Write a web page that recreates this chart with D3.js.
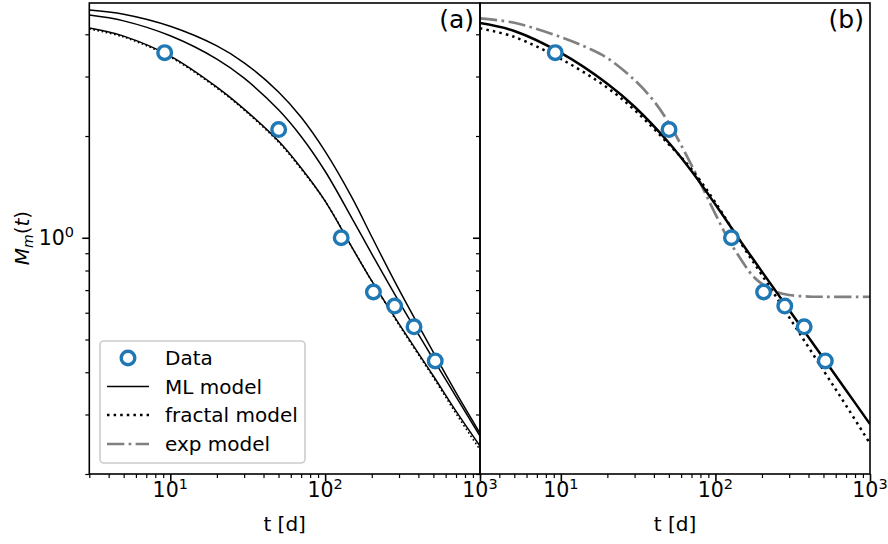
<!DOCTYPE html>
<html><head><meta charset="utf-8">
<script src="https://cdn.jsdelivr.net/npm/d3@7/dist/d3.min.js"></script>
<style>
body{margin:0;background:#fff;}
svg text{font-family:"DejaVu Sans",sans-serif;fill:#000;}
</style></head><body>
<svg id="c" width="888" height="544"></svg>
<script>
// ---------- data ----------
const tGrid = [3, 5, 10, 20, 30, 50, 70, 100, 150, 200, 300, 500, 700, 1000];
const dataT = [9.2, 50.1, 127, 205, 281, 375, 514];
const dataM = [3.53, 2.09, 1.00, 0.691, 0.628, 0.545, 0.432];
// panel (a): three ML model curves + fractal model
const mlA1 = [4.173, 3.951, 3.448, 2.792, 2.403, 1.932, 1.608, 1.284, 0.932, 0.745, 0.556, 0.390, 0.307, 0.242];
const mlA2 = [4.559, 4.383, 3.959, 3.378, 2.966, 2.392, 1.994, 1.573, 1.136, 0.896, 0.647, 0.437, 0.339, 0.259];
const mlA3 = [4.717, 4.587, 4.225, 3.696, 3.294, 2.700, 2.272, 1.801, 1.308, 1.007, 0.702, 0.458, 0.348, 0.264];
const fracA = [4.145, 3.925, 3.424, 2.773, 2.387, 1.919, 1.597, 1.284, 0.932, 0.745, 0.552, 0.386, 0.302, 0.236];
// panel (b): ML, fractal, exp
const mlB = [4.317, 4.091, 3.524, 2.857, 2.441, 1.910, 1.575, 1.254, 0.957, 0.794, 0.611, 0.440, 0.354, 0.281];
const fracB = [4.165, 3.928, 3.382, 2.779, 2.387, 1.889, 1.597, 1.271, 0.946, 0.776, 0.582, 0.405, 0.319, 0.246];
const expT = [3, 5, 10, 15, 20, 30, 40, 50, 70, 100, 120, 150, 175, 200, 250, 300, 400, 500, 1000];
const expM = [4.457, 4.326, 3.925, 3.640, 3.401, 2.928, 2.537, 2.184, 1.641, 1.175, 0.998, 0.848, 0.770, 0.730, 0.691, 0.677, 0.670, 0.669, 0.669];
// axes
const xDomain = [3, 1000];
const yDomain = [0.2, 4.95];
const xMajor = [10, 100, 1000];
const xMinor = [3,4,5,6,7,8,9,20,30,40,50,60,70,80,90,200,300,400,500,600,700,800,900];
const yMajor = [1];
const yMinor = [0.2,0.3,0.4,0.5,0.6,0.7,0.8,0.9,2,3,4];
const legendLabels = ["Data", "ML model", "fractal model", "exp model"];
const panelLabels = ["(a)", "(b)"];

// ---------- layout ----------
const svg = d3.select("#c");
const yTop = 3, yBot = 474;
const panels = [{x0: 89.3, x1: 480}, {x0: 480, x1: 870}];
const y = d3.scaleLog().domain(yDomain).range([yBot, yTop]);
const blue = "#1f77b4", gray = "#808080";

const defs = svg.append("defs");
panels.forEach((p, i) => {
  p.x = d3.scaleLog().domain(xDomain).range([p.x0, p.x1]);
  defs.append("clipPath").attr("id", "clip" + i).append("rect")
    .attr("x", p.x0).attr("y", yTop).attr("width", p.x1 - p.x0).attr("height", yBot - yTop);
});

function drawLine(g, xs, ts, ms, style) {
  const pts = ts.map((t, i) => [xs(t), y(ms[i])]);
  g.append("path").attr("d", d3.line().curve(d3.curveCatmullRom.alpha(0.5))(pts))
    .attr("fill", "none").attr("stroke", style.color).attr("stroke-width", style.w)
    .attr("stroke-dasharray", style.dash || null).attr("stroke-linecap", "butt");
}
function drawData(g, xs) {
  g.selectAll("circle.d").data(dataT).enter().append("circle")
    .attr("cx", (d) => xs(d)).attr("cy", (d, i) => y(dataM[i])).attr("r", 6.8)
    .attr("fill", "#fff").attr("stroke", blue).attr("stroke-width", 3.4);
}

// panel a
const ga = svg.append("g").attr("clip-path", "url(#clip0)");
const xa = panels[0].x;
const thinA = {color: "#000", w: 1.5};
drawLine(ga, xa, tGrid, mlA3, thinA);
drawLine(ga, xa, tGrid, mlA2, thinA);
drawLine(ga, xa, tGrid, mlA1, thinA);
drawLine(ga, xa, tGrid, fracA, {color: "#000", w: 1.6, dash: "1.6,2.6"});
drawData(svg.append("g"), xa);

// panel b
const gb = svg.append("g").attr("clip-path", "url(#clip1)");
const xb = panels[1].x;
drawLine(gb, xb, expT, expM, {color: gray, w: 2.7, dash: "17.3,4.3,2.7,4.3"});
drawLine(gb, xb, tGrid, mlB, {color: "#000", w: 2.5});
drawLine(gb, xb, tGrid, fracB, {color: "#000", w: 2.5, dash: "2.5,4.1"});
drawData(svg.append("g"), xb);

// ---------- axes ----------
function supText(sel, base, sup) {
  sel.append("tspan").text(base);
  sel.append("tspan").attr("font-size", 14.5).attr("dy", -8.5).text(sup);
}
panels.forEach((p, i) => {
  const xs = p.x;
  svg.append("g").attr("transform", `translate(0,${yBot})`)
    .call(d3.axisBottom(xs).tickValues(xMinor).tickSize(4).tickFormat("").tickSizeOuter(0))
    .call(g => g.select(".domain").remove())
    .call(g => g.selectAll("line").attr("stroke-width", 1.2));
  svg.append("g").attr("transform", `translate(0,${yBot})`)
    .call(d3.axisBottom(xs).tickValues(xMajor).tickSize(7).tickFormat("").tickSizeOuter(0))
    .call(g => g.select(".domain").remove())
    .call(g => g.selectAll("line").attr("stroke-width", 1.6));
  xMajor.forEach(v => {
    const ex = Math.round(Math.log10(v));
    const t = svg.append("text").attr("x", xs(v)).attr("y", 497)
      .attr("text-anchor", "middle").attr("font-size", 20.5);
    supText(t, "10", String(ex));
  });
  svg.append("g").attr("transform", `translate(${p.x0},0)`)
    .call(d3.axisLeft(y).tickValues(yMinor).tickSize(4).tickFormat("").tickSizeOuter(0))
    .call(g => g.select(".domain").remove())
    .call(g => g.selectAll("line").attr("stroke-width", 1.2));
  svg.append("g").attr("transform", `translate(${p.x0},0)`)
    .call(d3.axisLeft(y).tickValues(yMajor).tickSize(7).tickFormat("").tickSizeOuter(0))
    .call(g => g.select(".domain").remove())
    .call(g => g.selectAll("line").attr("stroke-width", 1.6));
  svg.append("rect").attr("x", p.x0).attr("y", yTop).attr("width", p.x1 - p.x0)
    .attr("height", yBot - yTop).attr("fill", "none").attr("stroke", "#000").attr("stroke-width", 1.6);
  svg.append("text").attr("x", (p.x0 + p.x1) / 2).attr("y", 531).attr("text-anchor", "middle")
    .attr("font-size", 20).text("t [d]");
  svg.append("text").attr("x", p.x1 - 6).attr("y", 28).attr("text-anchor", "end")
    .attr("font-size", 25).text(panelLabels[i]);
});
yMajor.forEach(v => {
  const t = svg.append("text").attr("x", 74).attr("y", y(v) + 7.5).attr("text-anchor", "end")
    .attr("font-size", 20.5);
  supText(t, "10", String(Math.round(Math.log10(v))));
});
const yl = svg.append("text").attr("transform", "translate(29,238) rotate(-90)")
  .attr("text-anchor", "middle").attr("font-size", 20);
yl.append("tspan").attr("font-style", "italic").text("M");
yl.append("tspan").attr("font-style", "italic").attr("font-size", 14).attr("dy", 4).text("m");
yl.append("tspan").attr("dy", -4).text("(");
yl.append("tspan").attr("font-style", "italic").text("t");
yl.append("tspan").text(")");

// ---------- legend ----------
const lg = svg.append("g");
lg.append("rect").attr("x", 100).attr("y", 341).attr("width", 205).attr("height", 122)
  .attr("rx", 4).attr("fill", "#fff").attr("fill-opacity", 0.8).attr("stroke", "#cccccc").attr("stroke-width", 1.6);
const rows = [358, 386.5, 415, 444];
const hx0 = 107, hx1 = 149;
lg.append("circle").attr("cx", (hx0 + hx1) / 2).attr("cy", rows[0]).attr("r", 6.8)
  .attr("fill", "#fff").attr("stroke", blue).attr("stroke-width", 3.4);
lg.append("line").attr("x1", hx0).attr("x2", hx1).attr("y1", rows[1]).attr("y2", rows[1])
  .attr("stroke", "#000").attr("stroke-width", 1.6);
lg.append("line").attr("x1", hx0).attr("x2", hx1).attr("y1", rows[2]).attr("y2", rows[2])
  .attr("stroke", "#000").attr("stroke-width", 2.5).attr("stroke-dasharray", "2.5,4.1");
lg.append("line").attr("x1", hx0).attr("x2", hx1).attr("y1", rows[3]).attr("y2", rows[3])
  .attr("stroke", gray).attr("stroke-width", 2.7).attr("stroke-dasharray", "17.3,4.3,2.7,4.3");
legendLabels.forEach((s, i) => {
  lg.append("text").attr("x", 165).attr("y", rows[i] + 7).attr("font-size", 20).text(s);
});
</script>
</body></html>
